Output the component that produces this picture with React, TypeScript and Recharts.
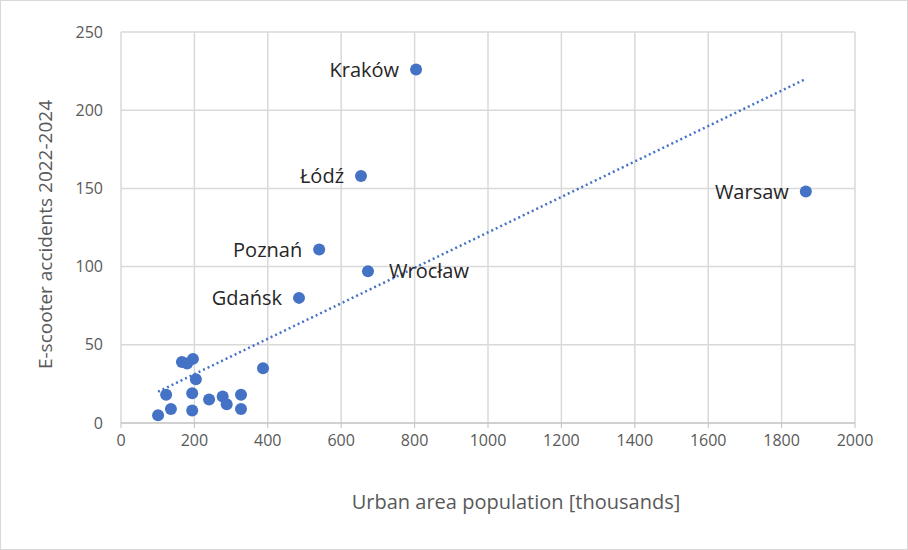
import React from "react";
import {
  ScatterChart,
  Scatter,
  XAxis,
  YAxis,
  CartesianGrid,
} from "recharts";

// city labels ("" = unlabelled small city)
const cities = [
  "Kraków", "Łódź", "Poznań", "Wrocław", "Gdańsk", "Warsaw",
  "", "", "", "", "", "", "", "", "", "", "", "", "", "", "",
];
// urban area population, thousands
const population = [
  804, 654, 540, 673, 485, 1866,
  101, 123, 136, 166, 180, 196, 204, 194, 194, 240, 277, 288, 327, 327, 387,
];
// e-scooter accidents 2022-2024
const accidents = [
  226, 158, 111, 97, 80, 148,
  5, 18, 9, 39, 38, 41, 28, 19, 8, 15, 17, 12, 18, 9, 35,
];
// linear trendline end points as drawn
const trendX = [101, 1866];
const trendY = [20, 220];

const xTicks = [0, 200, 400, 600, 800, 1000, 1200, 1400, 1600, 1800, 2000];
const yTicks = [0, 50, 100, 150, 200, 250];
const rightLabelled = ["Wrocław"];

const points = cities.map((name, i) => ({
  name,
  x: population[i],
  y: accidents[i],
}));
const trend = trendX.map((x, i) => ({ x, y: trendY[i] }));

const BLUE = "#4472c4";
const FONT = "'Open Sans', sans-serif";

// eslint-disable-next-line @typescript-eslint/no-explicit-any
const CityDot = (props: any) => {
  const { cx, cy, payload } = props;
  const right = rightLabelled.includes(payload.name);
  return (
    <g>
      <circle cx={cx} cy={cy} r={6} fill={BLUE} />
      {payload.name && (
        <text
          x={right ? cx + 21 : cx - 17}
          y={cy}
          dy="0.36em"
          textAnchor={right ? "start" : "end"}
          fill="#262626"
          fontSize={20}
          fontFamily={FONT}
        >
          {payload.name}
        </text>
      )}
    </g>
  );
};

const App: React.FC = () => {
  return (
    <div
      style={{
        position: "absolute",
        left: 0,
        top: 0,
        width: 906,
        height: 548,
        border: "1px solid #d9d9d9",
        background: "#fff",
      }}
    >
      <ScatterChart
        width={906}
        height={548}
        margin={{ top: 31, right: 52, bottom: 0, left: 0 }}
      >
        <CartesianGrid stroke="#d9d9d9" strokeWidth={1.5} />
        <XAxis
          type="number"
          dataKey="x"
          domain={[0, 2000]}
          ticks={xTicks}
          interval={0}
          height={126}
          tickSize={5}
          tickMargin={7}
          stroke="#bfbfbf"
          tick={{ fill: "#595959", fontSize: 16, fontFamily: FONT }}
          label={{
            value: "Urban area population [thousands]",
            position: "insideBottom",
            offset: 40,
            dx: 28,
            fill: "#595959",
            fontSize: 20,
            fontFamily: FONT,
          }}
        />
        <YAxis
          type="number"
          dataKey="y"
          domain={[0, 250]}
          ticks={yTicks}
          interval={0}
          width={120}
          axisLine={false}
          tickLine={false}
          tickSize={0}
          tickMargin={18}
          tick={{ fill: "#595959", fontSize: 16, fontFamily: FONT }}
          label={{
            value: "E-scooter accidents 2022-2024",
            angle: -90,
            position: "center",
            dx: -16,
            dy: 7,
            fill: "#595959",
            fontSize: 19,
            fontFamily: FONT,
          }}
        />
        <Scatter
          data={trend}
          line={{ stroke: BLUE, strokeWidth: 2.5, strokeDasharray: "2 3" }}
          shape={() => <g />}
          isAnimationActive={false}
        />
        <Scatter data={points} shape={CityDot} isAnimationActive={false} />
      </ScatterChart>
    </div>
  );
};

export default App;
